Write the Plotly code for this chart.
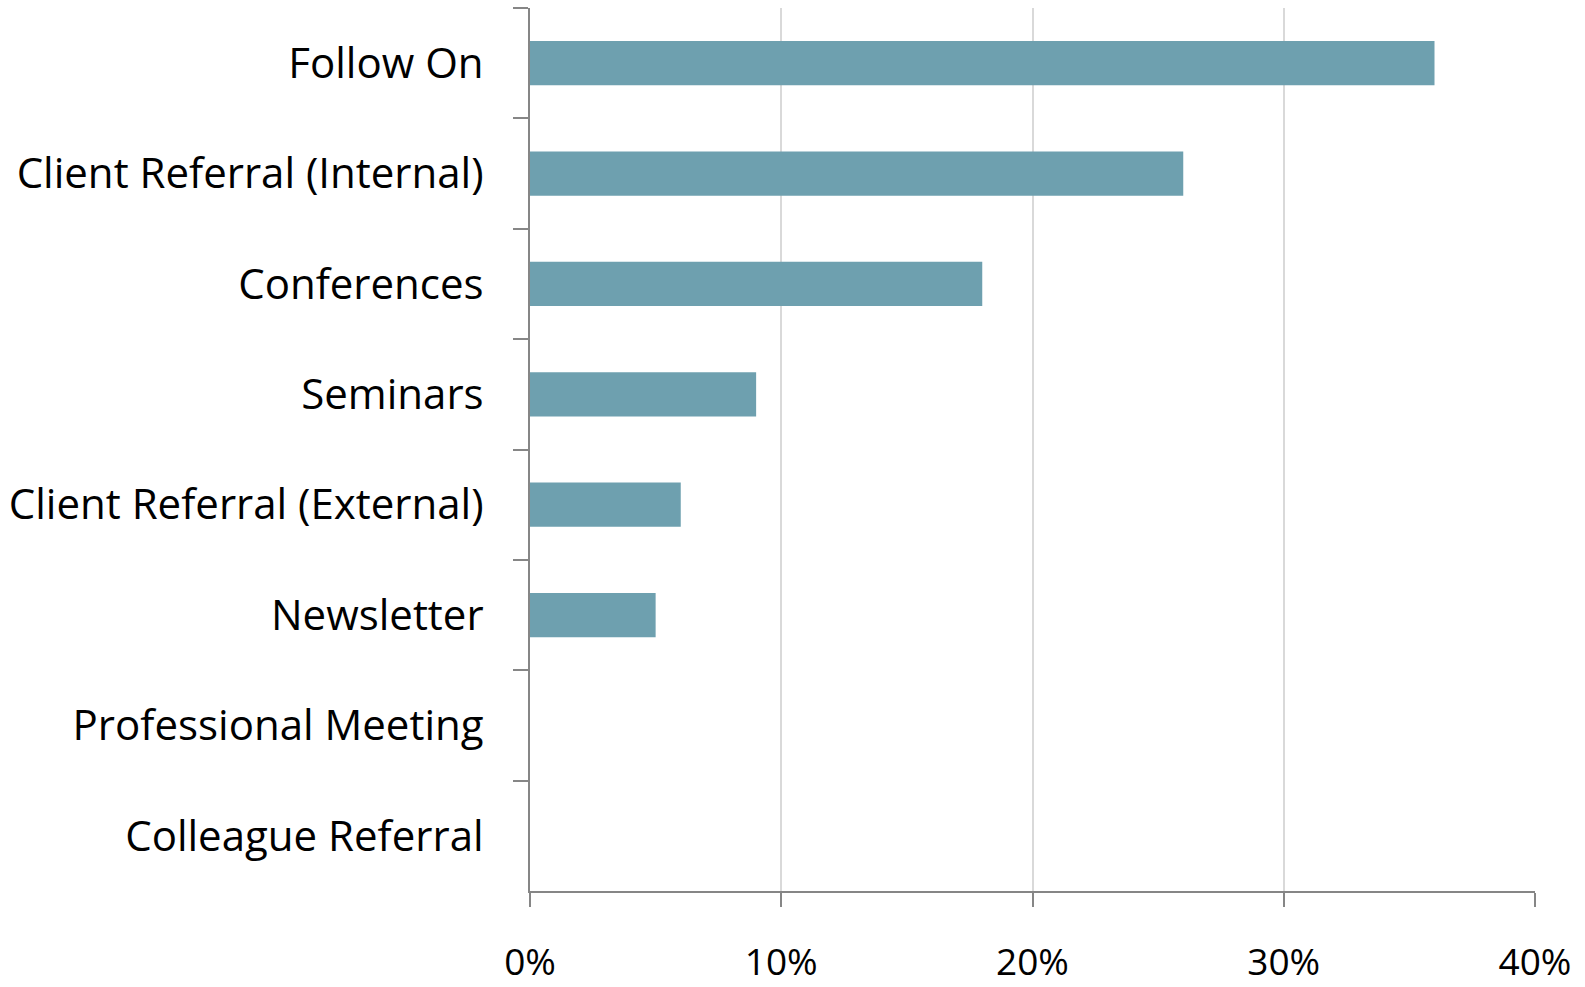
import plotly.graph_objects as go

# Lead sources, listed top to bottom
sources = [
    "Follow On",
    "Client Referral (Internal)",
    "Conferences",
    "Seminars",
    "Client Referral (External)",
    "Newsletter",
    "Professional Meeting",
    "Colleague Referral",
]
share = [0.36, 0.26, 0.18, 0.09, 0.06, 0.05, 0.0, 0.0]

x_ticks = [0.0, 0.1, 0.2, 0.3, 0.4]

BAR = "#6EA0AF"
AXIS = "#868686"
GRID = "#D9D9D9"
FONT = "Open Sans"

fig = go.Figure(
    go.Bar(
        x=share,
        y=sources,
        orientation="h",
        marker=dict(color=BAR, line=dict(width=0)),
        hoverinfo="x+y",
    )
)

fig.update_layout(
    width=1585,
    height=987,
    margin=dict(l=530, r=50, t=8, b=96),
    paper_bgcolor="white",
    plot_bgcolor="white",
    bargap=0.6,
    showlegend=False,
    font=dict(family=FONT, size=42, color="black"),
)

fig.update_xaxes(
    range=[0, 0.4],
    tickvals=x_ticks,
    tickformat=".0%",
    automargin=False,
    showgrid=True,
    gridcolor=GRID,
    gridwidth=2,
    zeroline=False,
    showline=True,
    linecolor=AXIS,
    linewidth=2,
    ticks="outside",
    ticklen=14,
    tickwidth=1.5,
    tickcolor=AXIS,
    ticklabelstandoff=24,
    tickfont=dict(family=FONT, size=37, color="black"),
)

fig.update_yaxes(
    categoryorder="array",
    categoryarray=sources,
    autorange="reversed",
    tickson="boundaries",
    automargin=False,
    showgrid=False,
    zeroline=False,
    showline=True,
    linecolor=AXIS,
    linewidth=2,
    ticks="outside",
    ticklen=15,
    tickwidth=1.5,
    tickcolor=AXIS,
    ticklabelstandoff=36,
    tickfont=dict(family=FONT, size=42, color="black"),
)

fig.write_html("out.html")
